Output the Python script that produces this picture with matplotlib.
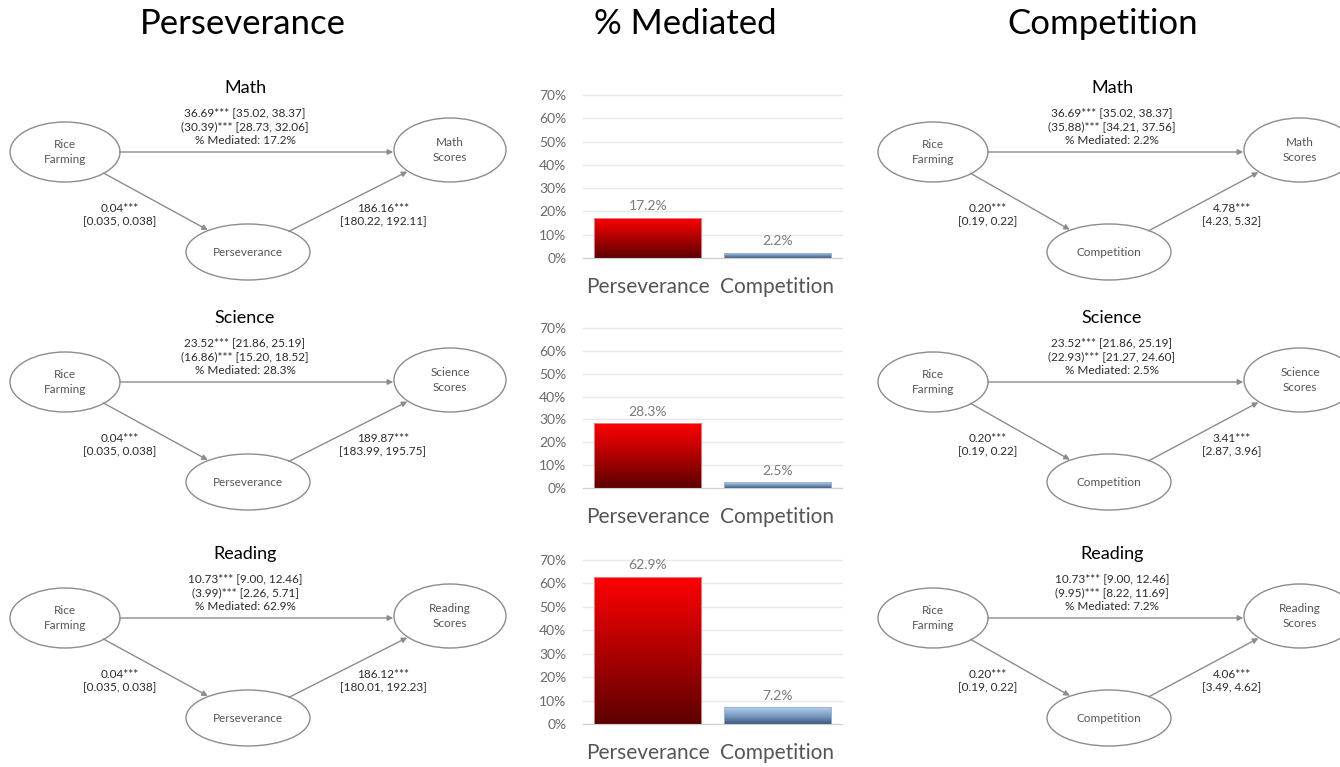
import numpy as np
import matplotlib
matplotlib.use("Agg")
import matplotlib.pyplot as plt
from matplotlib.patches import Ellipse, FancyArrowPatch
from matplotlib.colors import LinearSegmentedColormap

plt.rcParams['font.family'] = ['Lato', 'DejaVu Sans']

# data
subjects = ['Math', 'Science', 'Reading']
mediators = ['Perseverance', 'Competition']

total_eff = [36.69, 23.52, 10.73]
total_ci = [(35.02, 38.37), (21.86, 25.19), (9.00, 12.46)]

pers_direct = [30.39, 16.86, 3.99]
pers_direct_ci = [(28.73, 32.06), (15.20, 18.52), (2.26, 5.71)]
pers_a = [0.04, 0.04, 0.04]
pers_a_ci = [(0.035, 0.038), (0.035, 0.038), (0.035, 0.038)]
pers_b = [186.16, 189.87, 186.12]
pers_b_ci = [(180.22, 192.11), (183.99, 195.75), (180.01, 192.23)]
pers_pct = [17.2, 28.3, 62.9]

comp_direct = [35.88, 22.93, 9.95]
comp_direct_ci = [(34.21, 37.56), (21.27, 24.60), (8.22, 11.69)]
comp_a = [0.20, 0.20, 0.20]
comp_a_ci = [(0.19, 0.22), (0.19, 0.22), (0.19, 0.22)]
comp_b = [4.78, 3.41, 4.06]
comp_b_ci = [(4.23, 5.32), (2.87, 3.96), (3.49, 4.62)]
comp_pct = [2.2, 2.5, 7.2]

# colours
line_col = '#8c8c8c'
txt_col = '#2b2b2b'
node_col = '#555555'
red_cmap = LinearSegmentedColormap.from_list('red', ['#5c0000', '#b00000', '#ff0000'])
blue_cmap = LinearSegmentedColormap.from_list('blue', ['#3d5a80', '#7b9cc4', '#b4d0ee'])

fig = plt.figure(figsize=(13.4, 7.67), dpi=100)
base = fig.add_axes([0, 0, 1, 1])
base.set_xlim(0, 1340)
base.set_ylim(767, 0)
base.axis('off')

# column headers
base.text(243, 34, 'Perseverance', fontsize=25, ha='center', va='baseline', color='black')
base.text(685, 34, '% Mediated', fontsize=25, ha='center', va='baseline', color='black')
base.text(1103, 34, 'Competition', fontsize=25, ha='center', va='baseline', color='black')

row_y = [152, 382, 618]

# layout of each diagram column (pixel positions)
left_col = dict(rice=65, med=248, out=450, mid=245, la=120, lb=383, out_w=112)
right_col = dict(rice=933, med=1109, out=1300, mid=1112, la=988, lb=1232, out_w=112)

fs = 8.5


def fmt_ci(ci, nd=2):
    return '[%.*f, %.*f]' % (nd, ci[0], nd, ci[1])


def draw_diagram(col, cy, title, med_name, outcome, tot, tot_ci, d, d_ci, pct, a, a_ci, b, b_ci, a_nd):
    base.text(col['mid'], cy - 64, title, fontsize=13, ha='center', va='center', color='black')
    rice = Ellipse((col['rice'], cy), 110, 60, fc='white', ec=line_col, lw=1)
    med = Ellipse((col['med'], cy + 100), 124, 56, fc='white', ec=line_col, lw=1)
    out = Ellipse((col['out'], cy - 2), col['out_w'], 64, fc='white', ec=line_col, lw=1)
    for e in (rice, med, out):
        base.add_patch(e)
    base.text(col['rice'], cy, 'Rice\nFarming', fontsize=fs, ha='center', va='center',
              color=node_col, linespacing=1.4)
    base.text(col['med'], cy + 100, med_name, fontsize=fs, ha='center', va='center', color=node_col)
    base.text(col['out'], cy - 2, outcome + '\nScores', fontsize=fs, ha='center', va='center',
              color=node_col, linespacing=1.4)

    arrows = [((col['rice'], cy), (col['out'], cy), rice, out),
              ((col['rice'], cy), (col['med'], cy + 100), rice, med),
              ((col['med'], cy + 100), (col['out'], cy - 2), med, out)]
    for pa, pb, ea, eb in arrows:
        base.add_patch(FancyArrowPatch(pa, pb, patchA=ea, patchB=eb, shrinkA=0, shrinkB=1,
                                       arrowstyle='-|>', mutation_scale=8, color=line_col, lw=1))

    base.text(col['mid'], cy - 39, '%.2f*** %s' % (tot, fmt_ci(tot_ci)), fontsize=fs,
              ha='center', va='center', color=txt_col)
    base.text(col['mid'], cy - 25, '(%.2f)*** %s' % (d, fmt_ci(d_ci)), fontsize=fs,
              ha='center', va='center', color=txt_col)
    base.text(col['mid'], cy - 11, '%% Mediated: %.1f%%' % pct, fontsize=fs,
              ha='center', va='center', color=txt_col)
    base.text(col['la'], cy + 63, '%.2f***\n%s' % (a, fmt_ci(a_ci, a_nd)), fontsize=fs,
              ha='center', va='center', color=txt_col, linespacing=1.2)
    base.text(col['lb'], cy + 63, '%.2f***\n%s' % (b, fmt_ci(b_ci)), fontsize=fs,
              ha='center', va='center', color=txt_col, linespacing=1.2)


for i, subj in enumerate(subjects):
    draw_diagram(left_col, row_y[i], subj, 'Perseverance', subj, total_eff[i], total_ci[i],
                 pers_direct[i], pers_direct_ci[i], pers_pct[i], pers_a[i], pers_a_ci[i],
                 pers_b[i], pers_b_ci[i], 3)
    draw_diagram(right_col, row_y[i], subj, 'Competition', subj, total_eff[i], total_ci[i],
                 comp_direct[i], comp_direct_ci[i], comp_pct[i], comp_a[i], comp_a_ci[i],
                 comp_b[i], comp_b_ci[i], 2)

# % mediated bar charts: (top of 70% line, 0% line) in pixels
bar_rows = [(95, 258), (328, 488), (560, 724)]
ax_left, ax_w = 583, 259

for i, (top, bot) in enumerate(bar_rows):
    ax = fig.add_axes([ax_left / 1340, 1 - bot / 767, ax_w / 1340, (bot - top) / 767])
    vals = [pers_pct[i], comp_pct[i]]
    bars = ax.bar([0, 1], vals, width=0.83, color='none', edgecolor='none', zorder=2)
    for bar, cmap, ec in zip(bars, [red_cmap, blue_cmap], ['#e89090', '#9db5d0']):
        x, w, h = bar.get_x(), bar.get_width(), bar.get_height()
        grad = np.linspace(0, 1, 256).reshape(-1, 1)
        im = ax.imshow(grad, extent=[x, x + w, 0, h], origin='lower', aspect='auto',
                       cmap=cmap, zorder=2)
        im.set_clip_path(bar)
        ax.bar(x + w / 2, h, width=w, color='none', edgecolor=ec, lw=0.6, zorder=3)
    for bar, v in zip(bars, vals):
        ax.annotate('%.1f%%' % v, (bar.get_x() + bar.get_width() / 2, v),
                    xytext=(0, 4), textcoords='offset points', ha='center', va='bottom',
                    fontsize=10, color='#7a7a7a')
    ax.set_xlim(-0.5, 1.5)
    ax.set_ylim(0, 70)
    ax.set_yticks(range(0, 80, 10))
    ax.set_yticklabels(['%d%%' % t for t in range(0, 80, 10)], fontsize=10, color='#6a6a6a')
    ax.set_xticks([0, 1])
    ax.set_xticklabels(mediators, fontsize=15, color='#555555')
    ax.tick_params(axis='both', length=0)
    ax.tick_params(axis='y', pad=12)
    ax.tick_params(axis='x', pad=14)
    ax.yaxis.grid(True, color='#e9e9e9', lw=1, clip_on=False)
    ax.set_axisbelow(True)
    for s in ['top', 'right', 'left']:
        ax.spines[s].set_visible(False)
    ax.spines['bottom'].set_color('#d0d0d0')
    ax.patch.set_alpha(0)

fig.savefig('out.png', dpi=100)
